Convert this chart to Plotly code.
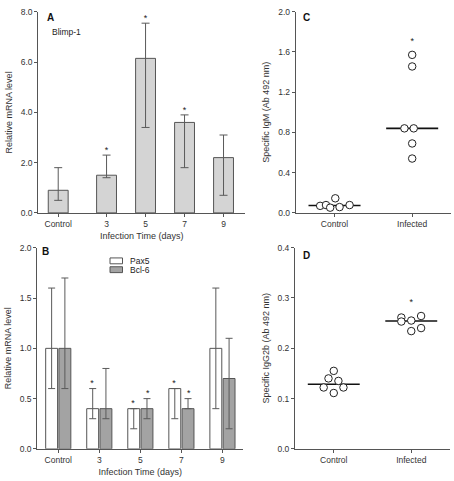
import numpy as np
import plotly.graph_objects as go

# ---------------- data ----------------
days = ["Control", "3", "5", "7", "9"]

blimp1 = [0.9, 1.5, 6.15, 3.6, 2.2]
blimp1_hi = [1.8, 2.3, 7.55, 3.9, 3.1]
blimp1_lo = [0.5, 1.4, 3.4, 1.8, 0.7]
blimp1_sig = [False, True, True, True, False]

pax5 = [1.0, 0.4, 0.4, 0.6, 1.0]
pax5_hi = [1.6, 0.6, 0.4, 0.6, 1.6]
pax5_lo = [0.6, 0.3, 0.2, 0.3, 0.4]
pax5_sig = [False, True, True, True, False]

bcl6 = [1.0, 0.4, 0.4, 0.4, 0.7]
bcl6_hi = [1.7, 0.8, 0.5, 0.5, 1.1]
bcl6_lo = [0.6, 0.3, 0.3, 0.4, 0.2]
bcl6_sig = [False, False, True, True, False]

groups = ["Control", "Infected"]
igm_control = [0.07, 0.078, 0.052, 0.145, 0.058, 0.078]
igm_infected = [1.57, 1.455, 0.84, 0.84, 0.69, 0.54]
igm_sig = [False, True]

igg2b_control = [0.155, 0.14, 0.122, 0.135, 0.122, 0.111]
igg2b_infected = [0.261, 0.253, 0.255, 0.264, 0.234, 0.240]
igg2b_sig = [False, True]

# horizontal scatter (jitter) of the dots, in category units (style only)
jit_igm_control = [-0.185, -0.11, -0.056, 0.01, 0.065, 0.194]
jit_igm_infected = [0.0, 0.0, -0.1, 0.02, 0.0, 0.0]
jit_igg_control = [0.0, -0.068, -0.13, 0.06, 0.125, 0.0]
jit_igg_infected = [-0.128, -0.128, 0.0, 0.127, 0.0, 0.127]

# ---------------- style ----------------
FONT = "Liberation Sans, Arial, sans-serif"
AX = "#555555"
ERR = "#5a5a5a"
W, H = 454, 481

fig = go.Figure()

# ---- Panel A ----
pos_a = [0.0] + [i + 0.24 for i in range(1, len(days))]
fig.add_trace(go.Bar(
    x=pos_a, y=blimp1, width=0.51, xaxis="x", yaxis="y",
    marker=dict(color="#d4d4d4", line=dict(color="#555555", width=1)),
    error_y=dict(type="data", symmetric=False,
                 array=[h - v for h, v in zip(blimp1_hi, blimp1)],
                 arrayminus=[v - l for v, l in zip(blimp1, blimp1_lo)],
                 color=ERR, thickness=1, width=4),
    showlegend=False))
fig.add_trace(go.Scatter(
    x=[p for p, s in zip(pos_a, blimp1_sig) if s],
    y=[h for h, s in zip(blimp1_hi, blimp1_sig) if s],
    mode="text", text=["*"] * sum(blimp1_sig), textposition="top center",
    textfont=dict(family=FONT, size=9, color="#222"),
    xaxis="x", yaxis="y", showlegend=False, hoverinfo="skip"))

# ---- Panel B ----
pos_b = list(range(len(days)))
for vals, hi, lo, sig, fill in [(pax5, pax5_hi, pax5_lo, pax5_sig, "#ffffff"),
                                (bcl6, bcl6_hi, bcl6_lo, bcl6_sig, "#a3a3a3")]:
    fig.add_trace(go.Bar(
        x=pos_b, y=vals, xaxis="x2", yaxis="y2",
        marker=dict(color=fill, line=dict(color="#555555", width=1)),
        error_y=dict(type="data", symmetric=False,
                     array=[h - v for h, v in zip(hi, vals)],
                     arrayminus=[v - l for v, l in zip(vals, lo)],
                     color=ERR, thickness=1, width=3.5),
        showlegend=False))
off = 0.178
fig.add_trace(go.Scatter(
    x=[p - off for p, s in zip(pos_b, pax5_sig) if s] + [p + off for p, s in zip(pos_b, bcl6_sig) if s],
    y=[h for h, s in zip(pax5_hi, pax5_sig) if s] + [h for h, s in zip(bcl6_hi, bcl6_sig) if s],
    mode="text", text=["*"] * (sum(pax5_sig) + sum(bcl6_sig)), textposition="top center",
    textfont=dict(family=FONT, size=9, color="#222"),
    xaxis="x2", yaxis="y2", showlegend=False, hoverinfo="skip"))

# ---- Panels C & D (dot plots with median) ----
def dot_panel(xa, ya, ctrl, inf, jc, ji, sig, star_gap):
    for gi, (vals, jit) in enumerate([(ctrl, jc), (inf, ji)]):
        med = float(np.median(vals))
        fig.add_trace(go.Scatter(
            x=[gi - 0.335, gi + 0.335], y=[med, med], mode="lines",
            line=dict(color="#111111", width=1.6),
            xaxis=xa, yaxis=ya, showlegend=False, hoverinfo="skip"))
        fig.add_trace(go.Scatter(
            x=[gi + j for j in jit], y=vals, mode="markers",
            marker=dict(symbol="circle", size=7.5, color="white",
                        line=dict(color="#222222", width=1)),
            xaxis=xa, yaxis=ya, showlegend=False))
    fig.add_trace(go.Scatter(
        x=[i for i, s in enumerate(sig) if s],
        y=[max(v) + star_gap for v, s in zip([ctrl, inf], sig) if s],
        mode="text", text=["*"] * sum(sig), textposition="middle center",
        textfont=dict(family=FONT, size=9, color="#222"),
        xaxis=xa, yaxis=ya, showlegend=False, hoverinfo="skip"))

dot_panel("x3", "y3", igm_control, igm_infected, jit_igm_control, jit_igm_infected, igm_sig, 0.13)
dot_panel("x4", "y4", igg2b_control, igg2b_infected, jit_igg_control, jit_igg_infected, igg2b_sig, 0.026)

# ---------------- axes ----------------
tickfont = dict(family=FONT, size=8.5, color="#333")
titlefont = dict(family=FONT, size=9, color="#333")

def xax(domain, rng, tv, tt, anchor, title=None):
    d = dict(domain=domain, range=rng, tickvals=tv, ticktext=tt, anchor=anchor,
             showline=True, linecolor=AX, linewidth=1, ticks="outside", ticklen=3,
             tickcolor=AX, tickfont=tickfont, showgrid=False, zeroline=False,
             fixedrange=True)
    if title:
        d["title"] = dict(text=title, font=titlefont, standoff=4)
    return d

def yax(domain, rng, dtick, anchor, title):
    return dict(domain=domain, range=rng, dtick=dtick, tick0=0, tickformat=".1f",
                anchor=anchor, showline=True, linecolor=AX, linewidth=1,
                ticks="outside", ticklen=3, tickcolor=AX, tickfont=tickfont,
                showgrid=False, zeroline=False, fixedrange=True,
                title=dict(text=title, font=titlefont, standoff=6))

fig.update_layout(
    width=W, height=H, margin=dict(l=0, r=0, t=0, b=0),
    paper_bgcolor="white", plot_bgcolor="white",
    barmode="group", bargap=0.355, bargroupgap=0.1,
    font=dict(family=FONT, color="#333"),
    xaxis=xax([0.0844, 0.5396], [-0.51, 4.79], pos_a, days, "y", "Infection Time (days)"),
    yaxis=yax([0.5586, 0.9854], [0, 8], 2, "x", "Relative mRNA level"),
    xaxis2=xax([0.0822, 0.5352], [-0.51, 4.5], pos_b, days, "y2", "Infection Time (days)"),
    yaxis2=yax([0.0576, 0.4844], [0, 2], 0.5, "x2", "Relative mRNA level"),
    xaxis3=xax([0.6513, 0.9934], [-0.5, 1.5], [0, 1], groups, "y3"),
    yaxis3=yax([0.5586, 0.986], [0, 2], 0.4, "x3", "Specific IgM (Ab 492 nm)"),
    xaxis4=xax([0.6498, 0.9912], [-0.5, 1.5], [0, 1], groups, "y4"),
    yaxis4=yax([0.0576, 0.485], [0, 0.4], 0.1, "x4", "Specific IgG2b (Ab 492 nm)"),
)

# ---------------- panel labels & legend ----------------
def px(x):
    return x / W

def py(y):
    return 1 - y / H

for letter, lx, ly in [("A", 50, 12.5), ("C", 306.5, 13), ("B", 45.5, 251.5), ("D", 306, 255.5)]:
    fig.add_annotation(x=px(lx), y=py(ly), xref="paper", yref="paper", showarrow=False,
                       text="<b>%s</b>" % letter, xanchor="center", yanchor="middle",
                       font=dict(family=FONT, size=10, color="#111"))

fig.add_annotation(x=px(50), y=py(27.5), xref="paper", yref="paper", showarrow=False,
                   text="Blimp-1", xanchor="left", yanchor="middle",
                   font=dict(family=FONT, size=8.5, color="#222"))

legend_items = [("Pax5", "#ffffff", 261.3), ("Bcl-6", "#a3a3a3", 270.3)]
for name, fill, yc in legend_items:
    fig.add_shape(type="rect", xref="paper", yref="paper",
                  x0=px(110), x1=px(122.5), y0=py(yc - 3), y1=py(yc + 3),
                  fillcolor=fill, line=dict(color="#555555", width=1))
    fig.add_annotation(x=px(127.5), y=py(yc), xref="paper", yref="paper", showarrow=False,
                       text=name, xanchor="left", yanchor="middle",
                       font=dict(family=FONT, size=8.5, color="#222"))

fig.write_html("out.html", config={"displayModeBar": False},
               post_script="document.body.style.margin='0px';")
